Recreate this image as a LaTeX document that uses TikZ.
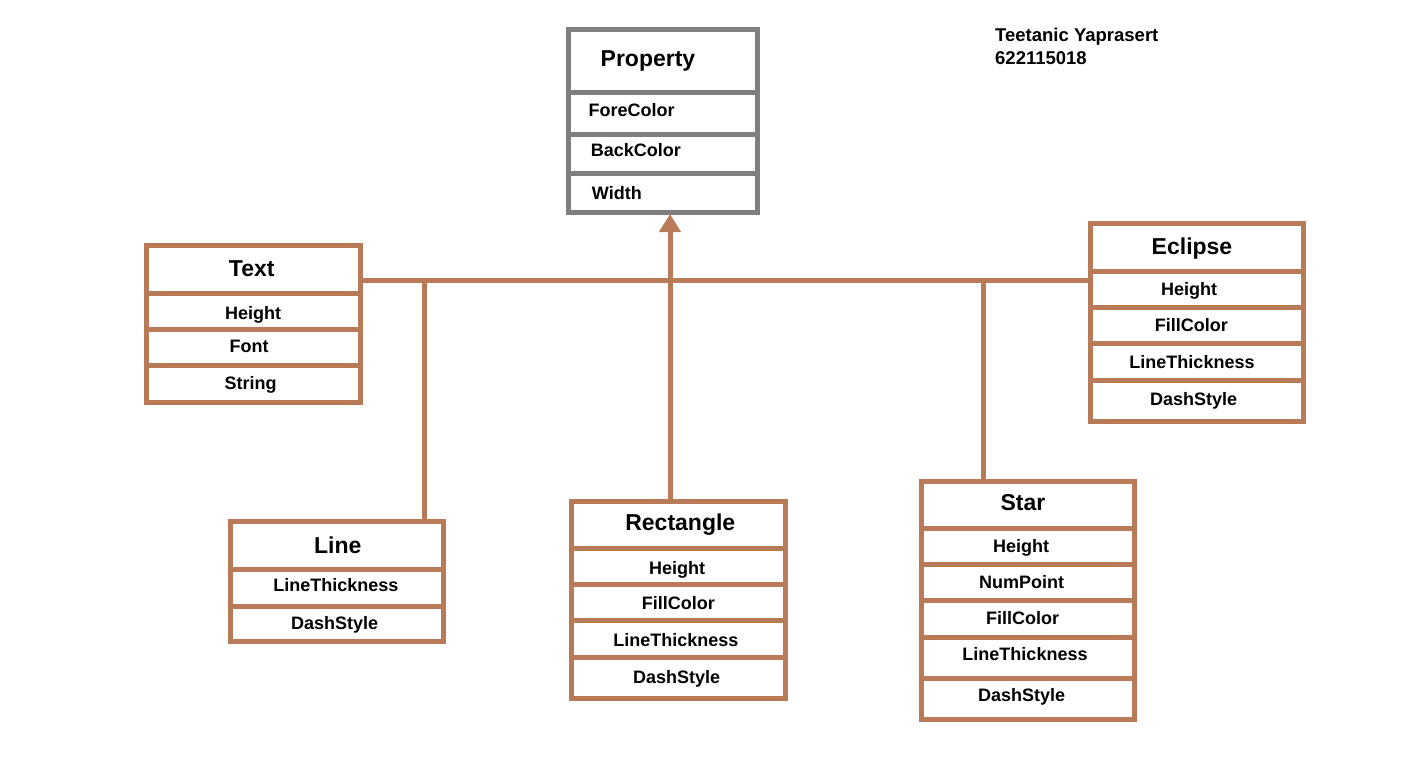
\documentclass[tikz,border=0pt]{standalone}
\usepackage{fontspec}
\setmainfont{Liberation Sans}
\usetikzlibrary{arrows.meta}
\definecolor{brownline}{HTML}{B97A57}
\definecolor{greyline}{HTML}{7F7F7F}
\begin{document}
\begin{tikzpicture}[x=1pt,y=-1pt,
  boxb/.style={draw=brownline,line width=5pt,rectangle,inner sep=0pt,outer sep=0pt},
  boxg/.style={boxb,draw=greyline},
  sepb/.style={draw=brownline,line width=5pt},
  sepg/.style={draw=greyline,line width=5pt},
  ttl/.style={font=\fontsize{23}{27}\selectfont\bfseries,anchor=base,inner sep=0pt},
  att/.style={font=\fontsize{18}{22}\selectfont\bfseries,anchor=base,inner sep=0pt},
  attl/.style={att,anchor=base west},
  conn/.style={draw=brownline,line width=5pt}]
\useasboundingbox (0,0) rectangle (1406,756);
\fill[white] (0,0) rectangle (1406,756);

% ---- boxes
\node[boxg,minimum width=189pt,minimum height=183pt] (property) at (663,121) {};
\node[boxb,minimum width=213.5pt,minimum height=156.5pt] (textbox) at (253.25,323.75) {};
\node[boxb,minimum width=213.5pt,minimum height=198pt] (eclipse) at (1196.75,322.5) {};
\node[boxb,minimum width=213.5pt,minimum height=120.2pt] (linebox) at (336.75,581.6) {};
\node[boxb,minimum width=213.5pt,minimum height=197.5pt] (rectbox) at (678.25,599.75) {};
\node[boxb,minimum width=213pt,minimum height=238pt] (starbox) at (1027.5,600) {};

% ---- separators
\foreach \yy in {92.5,134,173.5} \draw[sepg] (property.west |- 0,\yy) -- (property.east |- 0,\yy);
\foreach \yy in {293.5,329.5,365.5} \draw[sepb] (textbox.west |- 0,\yy) -- (textbox.east |- 0,\yy);
\foreach \yy in {271,307.5,343.5,380} \draw[sepb] (eclipse.west |- 0,\yy) -- (eclipse.east |- 0,\yy);
\foreach \yy in {569,606} \draw[sepb] (linebox.west |- 0,\yy) -- (linebox.east |- 0,\yy);
\foreach \yy in {548,584,620,657} \draw[sepb] (rectbox.west |- 0,\yy) -- (rectbox.east |- 0,\yy);
\foreach \yy in {528.5,564.5,600.5,637.5,678} \draw[sepb] (starbox.west |- 0,\yy) -- (starbox.east |- 0,\yy);

% ---- texts
\node[ttl,anchor=base west] (p-title) at (600.5,66.7) {Property};
\node[attl] (p-fore) at (588.3,116.7) {ForeColor};
\node[attl] (p-back) at (590.7,156) {BackColor};
\node[attl] (p-width) at (591.7,199.3) {Width};

\node[ttl] (t-title) at (251.7,276) {Text};
\node[att] (t-height) at (253,319) {Height};
\node[att] (t-font) at (249,352.7) {Font};
\node[att] (t-string) at (250.5,389) {String};

\node[ttl] (e-title) at (1192,254.3) {Eclipse};
\node[att] (e-height) at (1189,295) {Height};
\node[att] (e-fill) at (1191.3,331.7) {FillColor};
\node[att] (e-thick) at (1192,368.3) {LineThickness};
\node[att] (e-dash) at (1193.7,405) {DashStyle};

\node[ttl] (l-title) at (337.8,553.3) {Line};
\node[att] (l-thick) at (335.8,591.7) {LineThickness};
\node[att] (l-dash) at (334.7,629.3) {DashStyle};

\node[ttl] (r-title) at (680.3,530) {Rectangle};
\node[att] (r-height) at (677.2,574) {Height};
\node[att] (r-fill) at (678.3,609.3) {FillColor};
\node[att] (r-thick) at (675.8,646.7) {LineThickness};
\node[att] (r-dash) at (676.7,683.3) {DashStyle};

\node[ttl] (s-title) at (1023,510) {Star};
\node[att] (s-height) at (1021,552.7) {Height};
\node[att] (s-num) at (1021.5,588.3) {NumPoint};
\node[att] (s-fill) at (1022.5,624) {FillColor};
\node[att] (s-thick) at (1025,660) {LineThickness};
\node[att] (s-dash) at (1021.7,701.7) {DashStyle};

\node[font=\fontsize{18.5}{22}\selectfont\bfseries,anchor=base west,inner sep=0pt] (author) at (995,41) {Teetanic Yaprasert};
\node[font=\fontsize{18.5}{22}\selectfont\bfseries,anchor=base west,inner sep=0pt] (studentid) at (995,64) {622115018};

% ---- connectors
\coordinate (hub) at (670,280.5);
\coordinate (jline) at (424,280.5);
\coordinate (jstar) at (983.5,280.5);
\draw[conn] (textbox.east |- hub) -- (eclipse.west |- hub);
\draw[conn] (jline) -- (jline |- linebox.north);
\draw[conn] (hub) -- (hub |- rectbox.north);
\draw[conn] (jstar) -- (jstar |- starbox.north);
\draw[conn,-{Triangle[length=18pt,width=21pt]}] (hub) -- ([yshift=-1.5pt]property.south -| hub);
\end{tikzpicture}
\end{document}
